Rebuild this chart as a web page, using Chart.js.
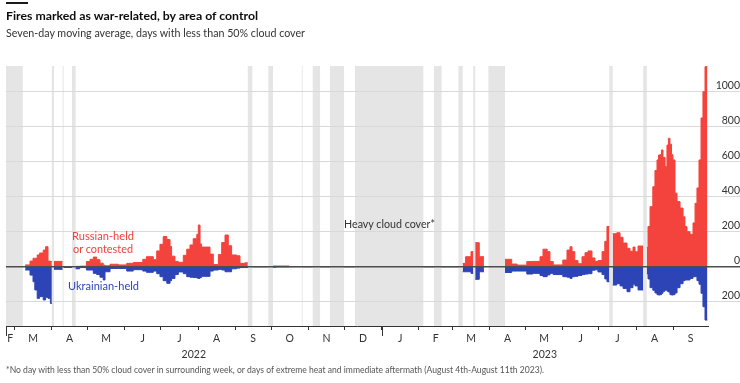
<!DOCTYPE html>
<html><head><meta charset="utf-8">
<script src="https://cdn.jsdelivr.net/npm/chart.js@4.4.1/dist/chart.umd.min.js"></script>
<style>
html,body{margin:0;padding:0;background:#fff;}
#wrap{position:relative;width:740px;height:383px;overflow:hidden;font-family:Lato,'Open Sans',sans-serif;}
canvas{position:absolute;left:0;top:0;}
.txt{position:absolute;white-space:nowrap;transform-origin:0 0;line-height:1;}
</style></head><body>
<div id="wrap">
<canvas id="c" width="740" height="383"></canvas>
<div style="position:absolute;left:6px;top:2px;width:22px;height:1.5px;background:#1a1a1a"></div>
<div class="txt" data-w="252" style="left:6px;top:9.5px;font-size:12px;font-weight:700;color:#0d0d0d">Fires marked as war-related, by area of control</div>
<div class="txt" data-w="299" style="left:6px;top:27.5px;font-size:10.5px;color:#333">Seven-day moving average, days with less than 50% cloud cover</div>
<div class="txt" data-w="62" style="left:71.5px;top:229.8px;font-size:11.5px;color:#f0413a">Russian-held</div>
<div class="txt" data-w="60" style="left:73px;top:242.8px;font-size:11.5px;color:#f0413a">or contested</div>
<div class="txt" data-w="71" style="left:68.3px;top:279.8px;font-size:11.5px;color:#2e45b8">Ukrainian-held</div>
<div class="txt" data-w="91" style="left:344.3px;top:218.1px;font-size:11.5px;color:#333">Heavy cloud cover*</div>
<div class="txt" data-w="538" style="left:6px;top:365px;font-size:9px;color:#555">*No day with less than 50% cloud cover in surrounding week, or days of extreme heat and immediate aftermath (August 4th-August 11th 2023).</div>
</div>
<script>
// Day index: 0 = 22 Feb 2022. Each value holds from its day until the next day.
// A null value marks the start of a gap (no data) at that day.
const days = [
  16, 20, 22.5, 24, 26, 28, 31, 33, 35, 37, 38.2,
  40, 47.2,
  48, 55,
  58, 61.4, 67, 70, 72.75, 75.5, 78.3, 81, 82.5, 86.7, 93.6, 100.6, 106, 114, 117, 122.75, 125.6, 128.3, 131, 134, 136.7, 138, 140.8, 143.6, 147.75, 150.6, 153.3, 156, 159, 160.25, 161.7, 163, 170, 172.75, 177, 179.75, 182.5, 185.25, 188, 192.25, 195, 199, 201.5,
  205.3, 218.6,
  222.5, 225, 236, 246.5,
  247.2, 255.6,
  261.7, 270,
  281.7, 290.8,
  347.8, 356.7,
  363, 377,
  380.6, 383, 387.5, 389.4,
  391, 394.4, 398.3,
  415.8, 421.4, 426, 434, 439, 445, 447.5, 451, 453.3, 456, 464, 467.5, 470, 471.7, 474, 476.7, 480, 482.5, 485, 488.3, 490.8, 493.3, 496.7, 499, 500.8, 502.8,
  505.6, 509, 511.7, 514.2, 517.5, 520, 522.5, 524.2, 526.7, 531,
  534, 535, 536.7, 539, 540.8, 542.5, 543.75, 545, 546.25, 547.5, 549.2, 550.8, 552, 553.3, 554.6, 555.8, 557.5, 559.2, 561.7, 564.2, 565.8, 567.5, 570, 572.5, 574.2, 575.8, 577.5, 579.2, 580.8, 582.5, 584.5
];
const russianHeld = [
  10, 32, 48, 48, 67, 78, 95, 114, 32, 30, null,
  30, null,
  1, null,
  2, 3, 29, 42, 55, 40, 20, 8, 5, 14, 10, 19, 24, 42, 57, 40, 90, 128, 172, 155, 115, 60, 30, 25, 65, 100, 124, 160, 185, 238, 130, 112, 72, 12, 70, 138, 181, 120, 67, 62, 19, 22, null,
  0, null,
  4, 4, 1, null,
  0, null,
  0, null,
  0, null,
  0, null,
  0, null,
  19, 57, 86, null,
  137, 57, null,
  42, 15, 9, 29, 30, 57, 100, 86, 29, 10, 38, 95, 114, 86, 35, 17, 57, 80, 90, 50, 30, 35, 86, 145, 230, null,
  188, 194, 168, 135, 105, 88, 112, 85, 118, null,
  110, 230, 343, 457, 550, 610, 638, 640, 667, 625, 571, 695, 734, 700, 640, 610, 420, 372, 335, 285, 229, 200, 185, 250, 362, 450, 610, 850, 1000, 1143, null
];
const ukrainianHeld = [
  -19, -48, -86, -133, -181, -171, -190, -175, -181, -210, null,
  -15, null,
  -4, null,
  -12, -5, -19, -19, -38, -45, -60, -76, -29, -10, -10, -25, -17, -25, -32, -25, -40, -57, -80, -95, -80, -67, -45, -30, -40, -57, -60, -62, -65, -67, -62, -55, -25, -19, -15, -19, -29, -29, -12, -8, -5, -5, null,
  0, null,
  -3, -1, 0, null,
  0, null,
  0, null,
  0, null,
  0, null,
  0, null,
  -29, -29, -38, null,
  -72, -29, null,
  -33, -25, -25, -42, -38, -50, -57, -47, -38, -45, -57, -60, -67, -57, -55, -50, -45, -42, -40, -20, -18, -30, -45, -70, -86, null,
  -105, -97, -110, -124, -143, -120, -100, -110, -133, null,
  -40, -70, -120, -135, -150, -160, -162, -160, -152, -140, -133, -140, -145, -160, -162, -160, -150, -120, -97, -80, -76, -76, -67, -57, -57, -80, -100, -152, -229, -305, null
];
// Heavy cloud cover periods [start day, end day]
const cloudBands = [
  [0, 14], [38.2, 40], [47.2, 48], [55, 58], [201.5, 205.3], [218.6, 222.5], [246.5, 247.2],
  [255.6, 261.7], [270, 281.7], [290.8, 347.8], [356.7, 363], [377, 380.6], [389.4, 391],
  [402, 415.8], [502.8, 505.6], [531, 534]
];
const monthStarts = [0, 7, 38, 68, 99, 129, 160, 191, 221, 252, 282, 313, 344, 372, 403, 433, 464, 494, 525, 556];
const yearStarts = [0, 313];
const monthCenters = [3.5, 22.5, 53, 83.5, 114, 144.5, 175.5, 206, 236.5, 267, 297.5, 328.5, 358, 387.5, 418, 448.5, 479, 509.5, 540.5, 570.5];
const monthLetters = ['F','M','A','M','J','J','A','S','O','N','D','J','F','M','A','M','J','J','A','S'];
const yearCenters = [156.5, 449];
const yearLabels = ['2022', '2023'];
const yTickValues = [-200, 0, 200, 400, 600, 800, 1000];
const yTickLabels = ['200', '0', '200', '400', '600', '800', '1000'];

const RED = '#f4433c', BLUE = '#2c44b6';

// Points for the library's stepped line: the last step of each run is closed at the gap day.
function buildSeries(values) {
  const pts = [];
  for (let i = 0; i < days.length; i++) {
    if (values[i] === null) {
      if (i > 0 && values[i - 1] !== null) pts.push({x: days[i], y: values[i - 1]});
      pts.push({x: days[i], y: null});
    } else {
      pts.push({x: days[i], y: values[i]});
    }
  }
  return pts;
}

const FONT = 'Lato';
const tickFont = {family: FONT, size: 10.5};
const mctx = document.createElement('canvas').getContext('2d');
mctx.font = '10.5px Lato';
const widest = mctx.measureText('1000').width;

const bandsPlugin = {
  id: 'bands',
  beforeDraw(chart) {
    const {ctx, chartArea, scales} = chart;
    ctx.save();
    ctx.fillStyle = '#e5e5e5';
    cloudBands.forEach(([a, b]) => {
      const x1 = scales.x.getPixelForValue(a), x2 = scales.x.getPixelForValue(b);
      ctx.fillRect(x1, chartArea.top, x2 - x1, chartArea.bottom - chartArea.top);
    });
    ctx.restore();
  }
};
const zeroPlugin = {
  id: 'zero',
  afterDatasetsDraw(chart) {
    const {ctx, chartArea, scales} = chart;
    const y = scales.y.getPixelForValue(0);
    ctx.save();
    ctx.strokeStyle = '#4d4d4d';
    ctx.lineWidth = 1.5;
    ctx.beginPath();
    ctx.moveTo(chartArea.left, y);
    ctx.lineTo(chart.width, y);
    ctx.stroke();
    ctx.restore();
  },
  afterDraw(chart) {
    const {ctx, chartArea, scales} = chart;
    ctx.save();
    ctx.strokeStyle = '#333';
    ctx.lineWidth = 1;
    yearStarts.forEach(d => {
      const x = Math.round(scales.x.getPixelForValue(d)) + 0.5;
      ctx.beginPath();
      ctx.moveTo(x, chartArea.bottom);
      ctx.lineTo(x, chartArea.bottom + 10);
      ctx.stroke();
    });
    ctx.restore();
  }
};

const xBase = {type: 'linear', position: 'bottom', min: 0, max: 585};

new Chart(document.getElementById('c'), {
  type: 'line',
  data: {
    datasets: [
      {data: buildSeries(russianHeld), stepped: 'before', fill: 'origin', backgroundColor: RED, borderColor: RED, borderWidth: 1, pointRadius: 0, spanGaps: false},
      {data: buildSeries(ukrainianHeld), stepped: 'before', fill: 'origin', backgroundColor: BLUE, borderColor: BLUE, borderWidth: 1, pointRadius: 0, spanGaps: false}
    ]
  },
  options: {
    responsive: false, animation: false, devicePixelRatio: 1,
    layout: {padding: {left: 6, right: 0, top: 66, bottom: 23}},
    plugins: {legend: {display: false}, tooltip: {enabled: false}},
    scales: {
      x: Object.assign({}, xBase, {
        afterBuildTicks: a => { a.ticks = monthStarts.map(v => ({value: v})); },
        ticks: {display: false},
        grid: {display: true, drawOnChartArea: false, drawTicks: true, tickLength: 4, color: '#333', lineWidth: 1},
        border: {display: true, color: '#333', width: 1},
        afterFit: a => { a.height = 6; }
      }),
      xm: Object.assign({}, xBase, {
        afterBuildTicks: a => { a.ticks = monthCenters.map(v => ({value: v})); },
        ticks: {autoSkip: false, maxRotation: 0, padding: 0, font: tickFont, color: '#333', callback: (v, i) => monthLetters[i]},
        grid: {display: false, drawTicks: false}, border: {display: false},
        afterFit: a => { a.height = 14; }
      }),
      xy: Object.assign({}, xBase, {
        afterBuildTicks: a => { a.ticks = yearCenters.map(v => ({value: v})); },
        ticks: {autoSkip: false, maxRotation: 0, padding: 2.2, font: tickFont, color: '#333', callback: (v, i) => yearLabels[i]},
        grid: {display: false, drawTicks: false}, border: {display: false},
        afterFit: a => { a.height = 14; }
      }),
      y: {
        type: 'linear', position: 'right', min: -339, max: 1147,
        afterBuildTicks: a => { a.ticks = yTickValues.map(v => ({value: v})); },
        ticks: {callback: (v, i) => yTickLabels[i], crossAlign: 'far', padding: 729 - 708 - 32 - widest - 7, labelOffset: -6, font: tickFont, color: '#333'},
        grid: {color: c => c.tick && c.tick.value === 0 ? '#4d4d4d' : '#d9d9d9', lineWidth: 1, tickLength: 32},
        border: {display: false},
        afterFit: a => { a.width = 32; }
      }
    }
  },
  plugins: [bandsPlugin, zeroPlugin]
});

document.querySelectorAll('.txt[data-w]').forEach(el => {
  const w = el.getBoundingClientRect().width;
  el.style.transform = 'scaleX(' + (parseFloat(el.dataset.w) / w) + ')';
});
</script>
</body></html>
